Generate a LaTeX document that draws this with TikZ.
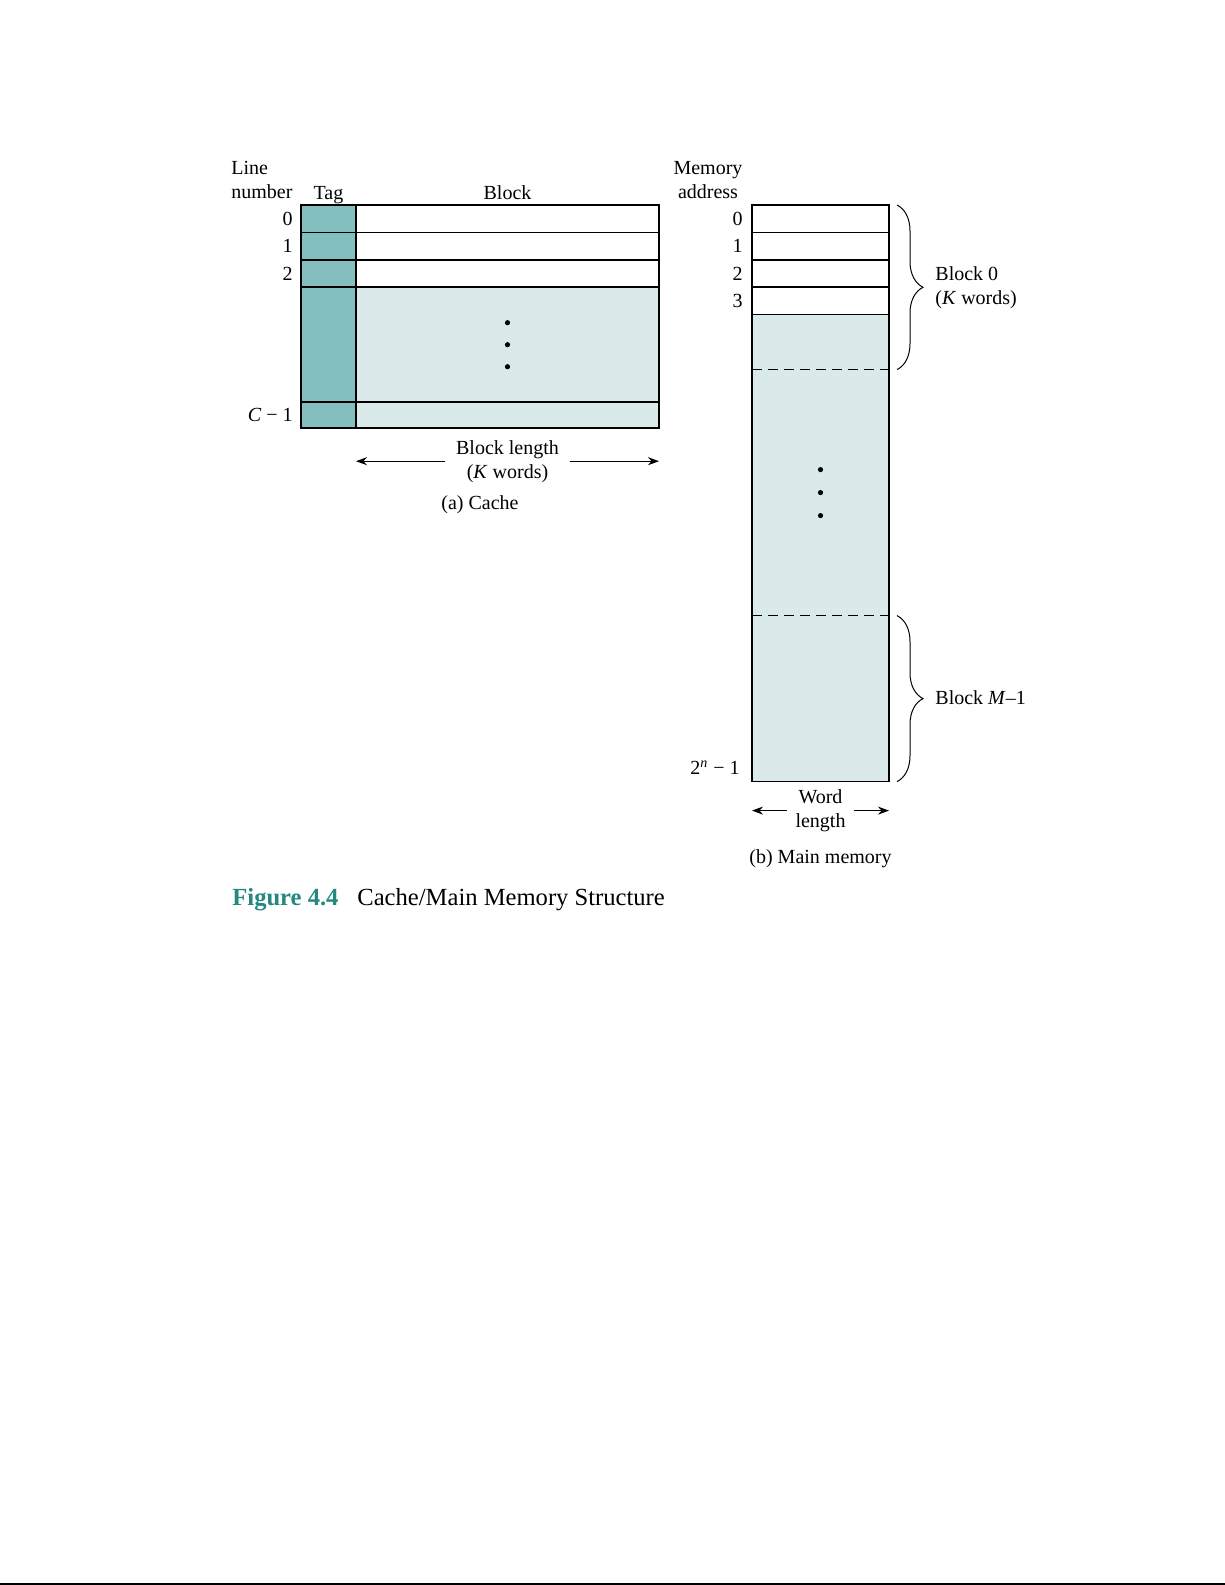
\documentclass[tikz,border=0pt]{standalone}
\usepackage{fontspec}
\setmainfont{Liberation Serif}
\usetikzlibrary{positioning, calc, arrows.meta, decorations.pathreplacing}

\definecolor{tagfill}{HTML}{84BFBF}
\definecolor{shade}{HTML}{DAE9E9}
\definecolor{figcolor}{HTML}{23887F}

\begin{document}
\begin{tikzpicture}[
        x=0.5pt, y=-0.5pt,
        cell/.style={
            rectangle, draw, line width=0.8pt, outer sep=0pt, inner sep=0pt,
            minimum height=13.7pt
        },
        tagcell/.style={cell, fill=tagfill, minimum width=27.5pt},
        blockcell/.style={cell, fill=white, minimum width=151.5pt},
        wordcell/.style={cell, fill=white, minimum width=68.5pt},
        lbl/.style={font=\fontsize{10}{12}\selectfont, inner sep=1pt},
        dot/.style={circle, fill, inner sep=0pt, minimum size=2.6pt},
        dimline/.style={line width=0.5pt, ->},
        dashline/.style={line width=0.6pt, dash pattern=on 5pt off 3pt},
        brace/.style={decorate, decoration={brace, amplitude=13pt}, line width=0.5pt},
        >={Stealth[length=5.5pt, width=4pt]},
    ]
    \useasboundingbox (0,0) rectangle (1225,1585);

    % Cache lines
    \node [tagcell, anchor=north west] (tag0) at (301,205) {};
    \node [tagcell, below=0pt of tag0] (tag1) {};
    \node [tagcell, below=0pt of tag1] (tag2) {};
    \node [tagcell, below=0pt of tag2, minimum height=57.5pt] (tagdots) {};
    \node [tagcell, below=0pt of tagdots, minimum height=13pt] (taglast) {};
    \node [blockcell, right=0pt of tag0] (blk0) {};
    \node [blockcell, right=0pt of tag1] (blk1) {};
    \node [blockcell, right=0pt of tag2] (blk2) {};
    \node [blockcell, right=0pt of tagdots, fill=shade, minimum height=57.5pt] (blkdots) {};
    \node [blockcell, right=0pt of taglast, fill=shade, minimum height=13pt] (blklast) {};
    \foreach \dy [count=\i] in {-22,0,22}
        \node [dot] (cdot\i) at ($(blkdots.center)+(0,\dy)$) {};

    % Cache labels
    \node [lbl, anchor=south west, align=left, inner sep=0pt] (linehead) at (231,199) {Line\\number};
    \node [lbl, anchor=base] (taghead) at ($(tag0.north)+(0,-6)$) {Tag};
    \node [lbl, anchor=base] (blockhead) at ($(blk0.north)+(0,-6)$) {Block};
    \node [lbl, left=3pt of tag0] (ln0) {0};
    \node [lbl, left=3pt of tag1] (ln1) {1};
    \node [lbl, left=3pt of tag2] (ln2) {2};
    \node [lbl, left=3pt of taglast] (lnlast) {\textit{C} − 1};

    \node [lbl, align=center, inner sep=5.5pt] (blen) at ($(blklast.south)+(0,33)$) {Block length\\(\textit{K} words)};
    \draw [dimline] (blen.west) -- (blen.west -| tag0.east);
    \draw [dimline] (blen.east) -- (blen.east -| blk0.east);
    \node [lbl] (cachecap) at (480,505) {(a) Cache};

    % Main memory words
    \node [wordcell, anchor=north west] (mem0) at (752,205) {};
    \node [wordcell, below=0pt of mem0] (mem1) {};
    \node [wordcell, below=0pt of mem1] (mem2) {};
    \node [wordcell, below=0pt of mem2] (mem3) {};
    \node [wordcell, below=0pt of mem3, fill=shade, minimum height=233.5pt] (memrest) {};
    \coordinate (dash1w) at ($(memrest.north west)+(0,55)$);
    \coordinate (dash2w) at ($(memrest.north west)+(0,301)$);
    \draw [dashline] (dash1w) -- (dash1w -| memrest.east);
    \draw [dashline] (dash2w) -- (dash2w -| memrest.east);
    \coordinate (memmid) at ($(dash1w -| memrest.center)!0.5!(dash2w -| memrest.center)$);
    \foreach \dy [count=\i] in {-23,0,23}
        \node [dot] (mdot\i) at ($(memmid)+(0,\dy)$) {};

    % Memory labels
    \node [lbl, anchor=south, align=center, inner sep=0pt] (addrhead) at (708,199) {Memory\\address};
    \node [lbl, left=3.5pt of mem0] (addr0) {0};
    \node [lbl, left=3.5pt of mem1] (addr1) {1};
    \node [lbl, left=3.5pt of mem2] (addr2) {2};
    \node [lbl, left=3.5pt of mem3] (addr3) {3};
    \node [lbl, anchor=base east] (addrlast) at ($(memrest.south west)+(-10,-7)$) {2\textsuperscript{\textit{n}} − 1};

    % Braces
    \coordinate (br0top) at ($(mem0.north east)+(8,0)$);
    \coordinate (br0bot) at ($(dash1w -| mem0.east)+(8,0)$);
    \coordinate (br0tip) at ($(br0top)!0.5!(br0bot)$);
    \draw [brace] (br0top) -- (br0bot);
    \node [lbl, anchor=west, align=left] (blk0lbl) at ($(br0tip)+(36,0)$) {Block 0\\(\textit{K} words)};

    \coordinate (br1top) at ($(dash2w -| mem0.east)+(8,0)$);
    \coordinate (br1bot) at ($(memrest.south east)+(8,0)$);
    \coordinate (br1tip) at ($(br1top)!0.5!(br1bot)$);
    \draw [brace] (br1top) -- (br1bot);
    \node [lbl, anchor=west] (blkMlbl) at ($(br1tip)+(36,-1)$) {Block \textit{M}–1};

    \node [lbl, align=center, inner sep=4pt] (wlen) at ($(memrest.south)+(0,29)$) {Word\\length};
    \draw [dimline] (wlen.west) -- (wlen.west -| memrest.west);
    \draw [dimline] (wlen.east) -- (wlen.east -| memrest.east);
    \node [lbl] (memcap) at ($(memrest.south)+(0,77)$) {(b) Main memory};

    % Caption
    \node [anchor=base west, inner sep=0pt, font=\fontsize{12.3}{14}\selectfont\bfseries, text=figcolor] (fignum) at (232,905) {Figure 4.4};
    \node [anchor=base west, inner sep=0pt, font=\fontsize{12.3}{14}\selectfont] (figtitle) at (357,905) {Cache/Main Memory Structure};

    \draw [line width=1pt] (0,1584) -- (1225,1584);
\end{tikzpicture}
\end{document}
